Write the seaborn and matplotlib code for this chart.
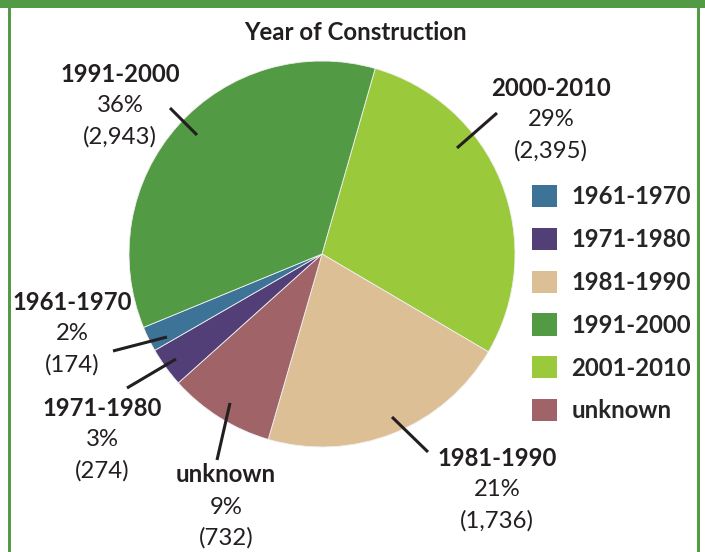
import numpy as np
import matplotlib.pyplot as plt
import seaborn as sns
from matplotlib.patches import Rectangle, Patch

sns.set_theme(style='white')
plt.rcParams['font.family'] = ['Lato', 'DejaVu Sans']

# data, clockwise from the top
slice_names = ['2000-2010', '1981-1990', 'unknown', '1971-1980', '1961-1970', '1991-2000']
counts = [2395, 1736, 732, 274, 174, 2943]
percents = ['29%', '21%', '9%', '3%', '2%', '36%']
count_text = ['(2,395)', '(1,736)', '(732)', '(274)', '(174)', '(2,943)']
slice_colors = ['#9BC93C', '#DDBF96', '#A06468', '#533F78', '#3D7396', '#539A44']

legend_names = ['1961-1970', '1971-1980', '1981-1990', '1991-2000', '2001-2010', 'unknown']
legend_colors = ['#3D7396', '#533F78', '#DDBF96', '#539A44', '#9BC93C', '#A06468']

W, H = 705, 552
fig = plt.figure(figsize=(W / 100, H / 100), dpi=100)
ax = fig.add_axes([0, 0, 1, 1])

# pixel helper (y measured from top)
def py(y):
    return H - y

ax.pie(counts, colors=slice_colors, startangle=74, counterclock=False,
       center=(322, py(254)), radius=193,
       wedgeprops=dict(linewidth=0.6, edgecolor='#f0f0f0'))
ax.set_xlim(0, W)
ax.set_ylim(0, H)
ax.set_aspect('equal')
ax.axis('off')

# label blocks: center x, first line y, leader line (outer -> inner)
label_layout = {
    '2000-2010': (551, 88, (497, 113), (457, 148)),
    '1981-1990': (497, 458, (428, 452), (392, 417)),
    'unknown': (226, 475, (217, 460), (230, 403)),
    '1971-1980': (102, 408, (127, 388), (176, 359)),
    '1961-1970': (72, 302, (113, 351), (167, 337)),
    '1991-2000': (120, 74, (170, 108), (197, 135)),
}
txt_color = '#231f20'
fs = 17.2
for name, pct, cnt in zip(slice_names, percents, count_text):
    cx, cy, p_out, p_in = label_layout[name]
    ax.text(cx, py(cy), name, ha='center', va='center', fontsize=fs,
            fontweight='bold', color=txt_color)
    ax.text(cx, py(cy + 32), pct, ha='center', va='center', fontsize=fs,
            color=txt_color)
    ax.text(cx, py(cy + 63), cnt, ha='center', va='center', fontsize=fs,
            color=txt_color)
    ax.plot([p_out[0], p_in[0]], [py(p_out[1]), py(p_in[1])],
            color=txt_color, lw=2.2, solid_capstyle='butt')

ax.text(356, py(33), 'Year of Construction', ha='center', va='center',
        fontsize=17.3, fontweight='bold', color=txt_color)

handles = [Patch(facecolor=c, edgecolor='none') for c in legend_colors]
fig.legend(handles, legend_names, loc='upper left',
           bbox_to_anchor=(532 / W, 1 - 185 / H), frameon=False,
           handlelength=1.05, handleheight=1.05,
           handletextpad=0.6, labelspacing=0.82, borderpad=0,
           borderaxespad=0, prop={'weight': 'bold', 'size': fs})

# green frame
frame_green = '#539A44'
fig.patches.append(Rectangle((0, 1 - 8 / H), 1, 8 / H, transform=fig.transFigure,
                             facecolor=frame_green, edgecolor='none'))
fig.patches.append(Rectangle((8 / W, 0), 3 / W, 1, transform=fig.transFigure,
                             facecolor=frame_green, edgecolor='none'))
fig.patches.append(Rectangle((697 / W, 0), 3 / W, 1, transform=fig.transFigure,
                             facecolor=frame_green, edgecolor='none'))

fig.savefig('out.png', dpi=100)
